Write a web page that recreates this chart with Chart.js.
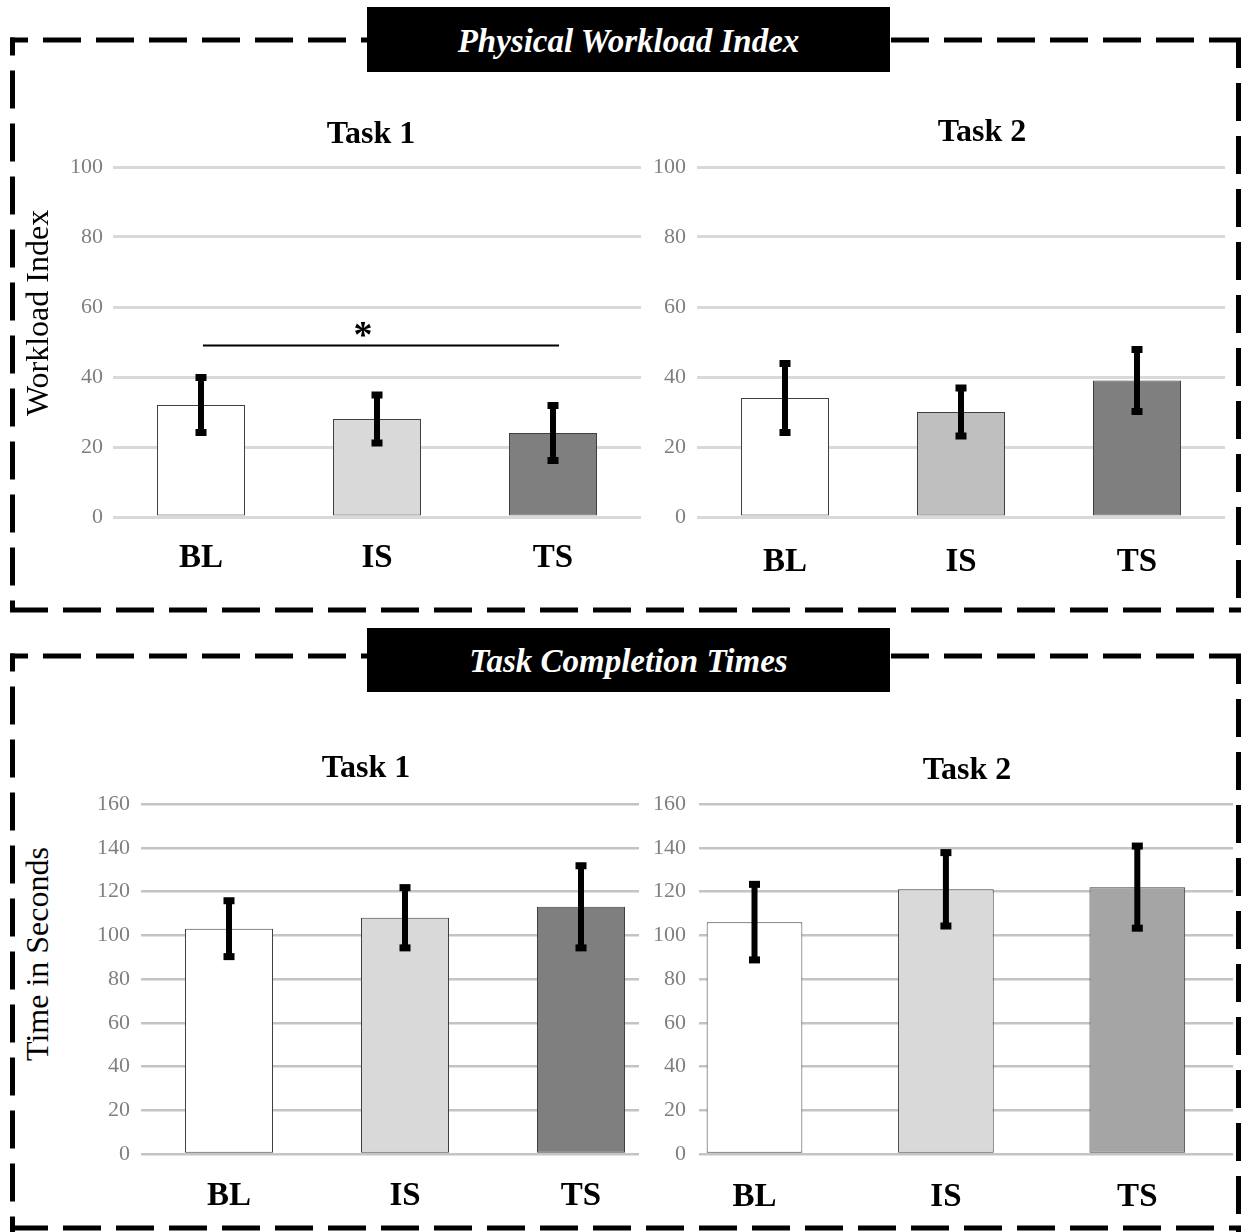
<!DOCTYPE html>
<html>
<head>
<meta charset="utf-8">
<script src="https://cdn.jsdelivr.net/npm/chart.js@4.4.1/dist/chart.umd.min.js"></script>
<style>
  html, body { margin: 0; padding: 0; background: #fff; }
  #page { position: relative; width: 1241px; height: 1232px; overflow: hidden; background: #fff;
          font-family: "Liberation Serif", "Times New Roman", serif; }
  canvas { position: absolute; }
  .box { position: absolute; background: #000; color: #fff; font-weight: bold; font-style: italic;
         font-size: 33px; display: flex; align-items: center; justify-content: center; }
  .ttl { position: absolute; width: 240px; height: 40px; line-height: 40px; text-align: center;
         font-weight: bold; font-size: 32px; color: #000; }
  .ytl { position: absolute; width: 320px; height: 40px; line-height: 40px; text-align: center;
         font-size: 32px; color: #000; transform: rotate(-90deg); }
</style>
</head>
<body>
<div id="page">
  <svg width="1241" height="1232" style="position:absolute;left:0;top:0">
    <g stroke="#000" stroke-width="5" fill="none" stroke-dasharray="38 15">
      <path d="M10,40 H1241" stroke-dashoffset="20"/>
      <path d="M12.5,37.5 V612" stroke-dashoffset="20"/>
      <path d="M10,610 H1241"/>
      <path d="M1238.5,40 V612" stroke-dashoffset="10"/>
      <path d="M10,656 H1241" stroke-dashoffset="20"/>
      <path d="M12.5,653.5 V1232" stroke-dashoffset="20"/>
      <path d="M10,1228 H1241"/>
      <path d="M1238.5,656 V1232" stroke-dashoffset="10"/>
    </g>
  </svg>

  <canvas id="c1" width="588" height="450" style="left:53px;top:137px"></canvas>
  <canvas id="c2" width="588" height="450" style="left:637px;top:137px"></canvas>
  <canvas id="c3" width="588" height="450" style="left:81px;top:774px"></canvas>
  <canvas id="c4" width="594" height="450" style="left:639px;top:774px;background:#fff"></canvas>

  <div class="box" style="left:367px;top:7px;width:523px;height:65px;padding-top:3px;box-sizing:border-box">Physical Workload Index</div>
  <div class="box" style="left:367px;top:628px;width:523px;height:64px;padding-top:3px;box-sizing:border-box">Task Completion Times</div>

  <div class="ttl" style="left:251px;top:112px">Task 1</div>
  <div class="ttl" style="left:862px;top:110px">Task 2</div>
  <div class="ttl" style="left:246px;top:746px">Task 1</div>
  <div class="ttl" style="left:847px;top:748px">Task 2</div>

  <div class="ytl" style="left:-123px;top:293px">Workload Index</div>
  <div class="ytl" style="left:-123px;top:934px">Time in Seconds</div>
</div>

<script>
// ---- data ----
const categories = ['BL', 'IS', 'TS'];

const workloadTask1 = [32, 28, 24];
const workloadTask1Err = [8, 7, 8];
const workloadTask2 = [34, 30, 39];
const workloadTask2Err = [10, 7, 9];

const timeTask1 = [103, 108, 113];
const timeTask1Err = [13, 14, 19];
const timeTask2 = [106, 121, 122];
const timeTask2Err = [17.5, 17, 19];

const workloadTicks = [0, 20, 40, 60, 80, 100];
const timeTicks = [0, 20, 40, 60, 80, 100, 120, 140, 160];

// significance bracket (Task 1 workload: BL vs TS)
const sigFrom = 0, sigTo = 2, sigLevel = 49, sigLabel = '*';

// ---- styles ----
const serif = '"Liberation Serif", "Times New Roman", serif';
Chart.defaults.font.family = serif;

const errorBarPlugin = {
  id: 'errorBars',
  afterDatasetsDraw(chart, args, opts) {
    const ctx = chart.ctx;
    const meta = chart.getDatasetMeta(0);
    const y = chart.scales.y;
    const x = chart.scales.x;
    ctx.save();
    ctx.fillStyle = '#000';
    meta.data.forEach((bar, i) => {
      const v = opts.values[i], e = opts.errors[i];
      const px = bar.x;
      const yHi = y.getPixelForValue(v + e);
      const yLo = y.getPixelForValue(v - e);
      ctx.fillRect(px - 3, yHi, 6, yLo - yHi);
      ctx.fillRect(px - 5.5, yHi - 3, 11, 7);
      ctx.fillRect(px - 5.5, yLo - 4, 11, 7);
    });
    if (opts.sig) {
      const s = opts.sig;
      const ly = y.getPixelForValue(s.level);
      const x1 = x.getPixelForValue(s.from);
      const x2 = x.getPixelForValue(s.to);
      ctx.strokeStyle = '#000';
      ctx.lineWidth = 2;
      ctx.beginPath();
      ctx.moveTo(x1 + 2, ly);
      ctx.lineTo(x2 + 6, ly);
      ctx.stroke();
      ctx.font = 'bold 38px ' + serif;
      ctx.textAlign = 'center';
      ctx.textBaseline = 'alphabetic';
      ctx.fillText(s.label, x.getPixelForValue(s.from + (s.to - s.from) * 0.46), ly + 1);
    }
    ctx.restore();
  }
};

function makeChart(id, values, errors, colors, yTicks, cfg) {
  const ctx = document.getElementById(id);
  return new Chart(ctx, {
    type: 'bar',
    data: {
      datasets: [{
        data: values.map((v, i) => ({ x: i, y: v })),
        backgroundColor: colors,
        borderColor: '#404040',
        borderWidth: 1,
        borderSkipped: false,
        barPercentage: 0.5,
        categoryPercentage: 1.0
      }]
    },
    options: {
      responsive: false,
      animation: false,
      devicePixelRatio: 1,
      layout: { padding: { top: 30, left: 0, right: 0, bottom: 0 } },
      plugins: {
        legend: { display: false },
        tooltip: { enabled: false },
        errorBars: { values: values, errors: errors, sig: cfg.sig || null }
      },
      scales: {
        x: {
          type: 'linear',
          offset: false,
          min: cfg.xMin,
          max: cfg.xMax,
          grid: { display: false, drawTicks: false },
          border: { display: false },
          afterBuildTicks: (s) => { s.ticks = categories.map((c, i) => ({ value: i })); },
          afterFit: (s) => { s.height = 70; },
          ticks: {
            autoSkip: false,
            maxRotation: 0,
            padding: cfg.xPad,
            color: '#000',
            font: { family: serif, size: 33, weight: 'bold' },
            callback: (v) => categories[v]
          }
        },
        y: {
          min: yTicks[0],
          max: yTicks[yTicks.length - 1],
          afterBuildTicks: (s) => { s.ticks = yTicks.map(v => ({ value: v })); },
          afterFit: (s) => { s.width = 60; },
          grid: { color: cfg.gridColor, lineWidth: cfg.gridWidth, drawTicks: false },
          border: { display: false },
          ticks: {
            padding: cfg.yPad,
            color: '#7f7f7f',
            font: { family: serif, size: 22 }
          }
        }
      }
    },
    plugins: [errorBarPlugin]
  });
}

makeChart('c1', workloadTask1, workloadTask1Err, ['#ffffff', '#d9d9d9', '#7f7f7f'], workloadTicks,
  { xMin: -0.5, xMax: 2.5, xPad: 22, yPad: 10, gridColor: '#d9d9d9', gridWidth: 3,
    sig: { from: sigFrom, to: sigTo, level: sigLevel, label: sigLabel } });
makeChart('c2', workloadTask2, workloadTask2Err, ['#ffffff', '#bfbfbf', '#7f7f7f'], workloadTicks,
  { xMin: -0.5, xMax: 2.5, xPad: 26, yPad: 11, gridColor: '#d9d9d9', gridWidth: 3 });
makeChart('c3', timeTask1, timeTask1Err, ['#ffffff', '#d9d9d9', '#7f7f7f'], timeTicks,
  { xMin: -0.5, xMax: 2.5, xPad: 23, yPad: 11, gridColor: '#c4c4c4', gridWidth: 2.5 });
makeChart('c4', timeTask2, timeTask2Err, ['#ffffff', '#d9d9d9', '#a5a5a5'], timeTicks,
  { xMin: -0.29, xMax: 2.5, xPad: 24, yPad: 13, gridColor: '#c4c4c4', gridWidth: 2.5 });
</script>
</body>
</html>
